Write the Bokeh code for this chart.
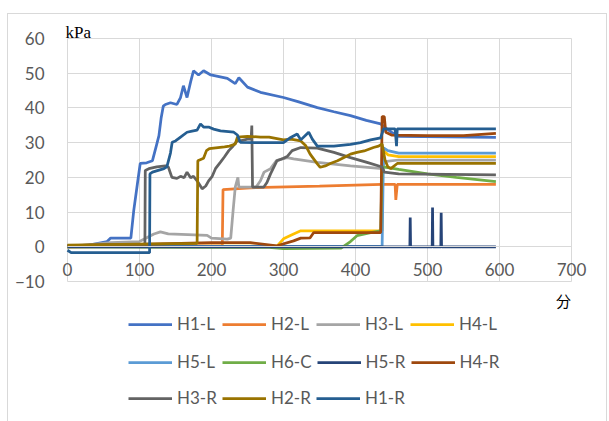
from bokeh.plotting import figure
from bokeh.models import Range1d, Legend, LegendItem, Label, FixedTicker
from bokeh.embed import file_html
from bokeh.resources import INLINE

# ---- data ----
h1l_x = [0, 30, 55, 60, 88, 92, 97, 101, 110, 118, 124, 127, 130, 133, 136, 143, 152, 157, 161, 166, 171, 175, 182, 189, 199, 222, 233, 238, 250, 268, 300, 320, 347, 370, 393, 415, 435, 440, 450, 460, 595]
h1l_y = [0, 0.5, 1.5, 2.5, 2.5, 10.4, 18, 24, 24.2, 24.8, 29.6, 32, 37, 40.5, 41, 41.5, 41, 43, 46.4, 43, 47.5, 50.7, 49.5, 50.7, 49.5, 48.5, 47, 48.7, 46, 44.5, 43, 41.8, 40.1, 38.9, 37.8, 36.4, 35.4, 34.5, 33, 31.8, 31.5]

h2l_x = [0, 100, 215, 216, 254, 350, 437, 455, 456, 458, 595]
h2l_y = [0, 0.2, 0.3, 16.5, 17, 17.5, 18, 18, 13.5, 18, 18]

h3l_x = [0, 60, 100, 120, 129, 140, 194, 200, 222, 226.7, 230, 233, 236.7, 238, 262, 268, 273, 282, 290, 305, 314, 347, 393, 437, 440, 460, 595]
h3l_y = [0, 1.2, 1.5, 3.7, 4.3, 3.7, 3.3, 2.5, 2.2, 2.5, 10.4, 17.2, 20, 17.2, 17.2, 19, 21.5, 22.5, 24.8, 25.7, 25.3, 24.3, 23.3, 22.5, 24.5, 25, 25]

h4l_x = [0, 200, 291, 300, 314, 324, 437, 438, 445, 460, 595]
h4l_y = [0, 0.2, 0.2, 2.3, 3.7, 4.6, 4.6, 28, 26.5, 26, 26]

h5l_x = [0, 437, 439, 445, 460, 595]
h5l_y = [0.1, 0.1, 28.5, 27.7, 27, 27]

h6c_x = [0, 180, 280, 300, 380, 393, 402, 421, 435, 437, 445, 460, 500, 540, 595]
h6c_y = [0, -0.2, -0.2, -0.5, -0.4, 1.5, 3.2, 4.1, 4.6, 23, 22.8, 22.3, 21, 20, 18.8]

h5r_x = [0, 475.5, 476, 476.5, 506.5, 507, 507.5, 518.5, 519, 519.5, 595]
h5r_y = [0, 0, 8.4, 0, 0, 11.3, 0, 0, 9.8, 0, 0]

h4r_x = [0, 100, 200, 254, 291, 314, 324, 337, 342, 435, 437, 440, 442, 450, 500, 550, 595]
h4r_y = [0.3, 0.7, 1.2, 1.2, 0.3, 1.7, 2.5, 2.6, 4.1, 4.1, 37.5, 37.5, 33, 32.2, 32, 32, 32.7]

h3r_x = [0, 60, 107.5, 108, 113, 124, 136, 140, 145, 152, 157, 162, 166, 171, 175, 180, 187, 192, 196, 201, 205.5, 212.5, 217.6, 224, 228.7, 235.7, 240, 250, 255, 256, 257, 272.7, 277, 282, 291, 300, 305, 312, 324, 347, 370, 393, 416, 437, 440, 460, 595]
h3r_y = [0.3, 0.6, 0.8, 22, 22.5, 23, 23.3, 23, 20, 19.7, 20.3, 19.9, 21.5, 19.9, 20.3, 19, 16.7, 17.5, 19, 20.3, 22.5, 24.4, 25.8, 27.7, 28.7, 30.5, 30.5, 31, 31, 34.9, 17.2, 17.2, 18.5, 21, 24.8, 25.5, 26, 27.7, 28.6, 28.4, 27.2, 25.7, 24.3, 23, 21.5, 21, 20.7]

h2r_x = [0, 100, 180, 181, 189, 193, 197, 218, 225, 233, 236, 250, 268, 280, 300, 310, 324, 331, 337, 347, 351, 358, 365, 375, 384, 393, 402, 412, 425, 432, 437, 441, 445, 449, 458, 595]
h2r_y = [0.5, 0.8, 1.0, 24.8, 25.5, 27.7, 28.3, 28.8, 29, 29.6, 31.6, 31.8, 31.6, 31.6, 30.8, 31, 30.5, 29.1, 26.7, 23.9, 22.9, 23.3, 24, 24.8, 25.7, 26.7, 27.2, 27.6, 28.6, 29, 29.6, 25, 23, 22.5, 24, 24]

h1r_x = [0, 5, 114, 114.5, 118, 134, 138, 143, 145.4, 150, 157, 166, 173, 180, 184.7, 189, 196, 203, 212.5, 231, 236, 240, 268, 300, 310, 319, 324, 331, 335, 340, 347, 370, 393, 407, 421, 435, 439, 455, 457, 458, 460, 595]
h1r_y = [-1, -1.7, -1.7, 21, 21.5, 22.5, 23, 27, 30.1, 30.5, 31.6, 33, 33.3, 33.6, 35.4, 34.5, 34.5, 33.9, 33.4, 33, 32.2, 30.1, 30, 30, 31.5, 32.5, 30.8, 32.2, 33, 31, 29, 29, 29.5, 30, 30.8, 31.4, 34, 34, 29, 34, 34, 34]

series_names = ["H1-L", "H2-L", "H3-L", "H4-L", "H5-L", "H6-C", "H5-R", "H4-R", "H3-R", "H2-R", "H1-R"]
series_colors = ["#4472C4", "#ED7D31", "#A5A5A5", "#FFC000", "#5B9BD5", "#70AD47",
                 "#264478", "#9E480E", "#636363", "#997300", "#255E91"]
series_xs = [h1l_x, h2l_x, h3l_x, h4l_x, h5l_x, h6c_x, h5r_x, h4r_x, h3r_x, h2r_x, h1r_x]
series_ys = [h1l_y, h2l_y, h3l_y, h4l_y, h5l_y, h6c_y, h5r_y, h4r_y, h3r_y, h2r_y, h1r_y]

x_ticks = [0, 100, 200, 300, 400, 500, 600, 700]
y_ticks = [-10, 0, 10, 20, 30, 40, 50, 60]
x_lim = (0, 700)
y_lim = (-10, 60)

# ---- figure: the frame covers the whole chart area; plot area = x_lim x y_lim ----
px_per_x = 0.72          # screen px per minute
px_per_y = 243 / 70.0    # screen px per kPa
left_px, top_px = 59, 24  # plot-area offset inside the canvas
W, H = 598, 407
x_range = Range1d(-left_px / px_per_x, (W - left_px) / px_per_x)
y_top = y_lim[1] + top_px / px_per_y
y_range = Range1d(y_top - H / px_per_y, y_top)

p = figure(frame_width=W, frame_height=H, output_backend="svg", toolbar_location=None,
           x_range=x_range, y_range=y_range, min_border=0)
p.styles = {"border-top": "1px solid #D9D9D9", "border-left": "1px solid #D9D9D9",
            "border-right": "1px solid #D9D9D9", "margin-top": "13px", "margin-left": "7px"}
p.outline_line_color = None

grid_col = "#D9D9D9"
p.xgrid.grid_line_color = grid_col
p.ygrid.grid_line_color = grid_col
p.xgrid.ticker = FixedTicker(ticks=x_ticks)
p.ygrid.ticker = FixedTicker(ticks=y_ticks)
p.xgrid.cross_bounds = y_lim
p.ygrid.cross_bounds = x_lim

p.xaxis.ticker = FixedTicker(ticks=x_ticks)
p.yaxis.ticker = FixedTicker(ticks=y_ticks)
p.xaxis.bounds = x_lim
p.yaxis.bounds = y_lim
p.xaxis.fixed_location = 0
p.yaxis.fixed_location = 0
for ax in (p.xaxis, p.yaxis):
    ax.major_tick_line_color = None
    ax.minor_tick_line_color = None
    ax.major_label_text_font = "Lato"
    ax.major_label_text_font_size = "17px"
    ax.major_label_text_color = "#595959"
p.xaxis.axis_line_color = grid_col
p.yaxis.axis_line_color = None
p.xaxis.major_label_standoff = 10
p.yaxis.major_label_standoff = 17

renderers = []
for name, col, xs, ys in zip(series_names, series_colors, series_xs, series_ys):
    renderers.append(p.line(xs, ys, line_color=col, line_width=2.75))

# legend: three rows of (up to) four entries
row_bottoms = [87, 49, 13]
for r_i, bottom in enumerate(row_bottoms):
    idx = range(4 * r_i, min(4 * r_i + 4, len(series_names)))
    leg = Legend(items=[LegendItem(label=series_names[i], renderers=[renderers[i]]) for i in idx],
                 orientation="horizontal", location=(120, bottom),
                 label_text_font="Lato", label_text_font_size="17px", label_text_color="#595959",
                 glyph_width=44, glyph_height=20, label_standoff=5, label_height=20, label_width=40,
                 spacing=5, padding=0, margin=0,
                 border_line_color=None, background_fill_alpha=0)
    p.add_layout(leg)

p.add_layout(Label(x=0, y=y_lim[1], text="kPa", text_font="Liberation Serif", text_font_size="17px",
                   text_color="#000000", text_baseline="alphabetic", y_offset=6, x_offset=-2))
p.add_layout(Label(x=689, y=y_lim[0], text="分", text_font="Noto Sans CJK JP", text_font_size="15px",
                   text_color="#000000", text_baseline="middle", text_align="center", y_offset=-19))

open("out.html", "w").write(file_html(p, INLINE))
